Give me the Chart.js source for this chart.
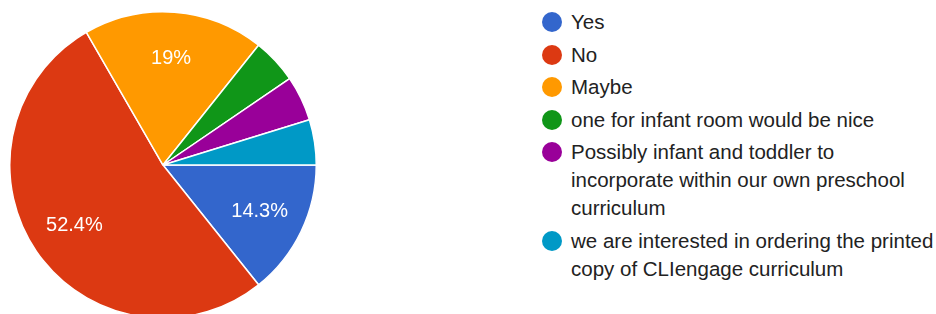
<!DOCTYPE html>
<html>
<head>
<meta charset="utf-8">
<script src="https://cdn.jsdelivr.net/npm/chart.js@4"></script>
<style>
  html, body { margin: 0; padding: 0; background: #fff; }
  body { width: 936px; height: 314px; position: relative; overflow: hidden; font-family: "Liberation Sans", Arial, sans-serif; }
  #pieWrap { position: absolute; left: 9px; top: 11px; width: 308px; height: 308px; }
  #legend { position: absolute; left: 541px; top: 8px; width: 395px; color: #222; font-size: 20.5px; }
  .item { display: flex; align-items: flex-start; margin-bottom: 4.5px; }
  .dot { width: 20px; height: 20px; border-radius: 50%; flex: none; margin: 4px 9px 0 1px; }
  .txt { line-height: 28px; width: 365px; }
</style>
</head>
<body>
<div id="pieWrap"><canvas id="c" width="308" height="308"></canvas></div>
<div id="legend"></div>
<script>
const categories = [
  "Yes",
  "No",
  "Maybe",
  "one for infant room would be nice",
  "Possibly infant and toddler to incorporate within our own preschool curriculum",
  "we are interested in ordering the printed copy of CLIengage curriculum"
];
const responses = [3, 11, 4, 1, 1, 1];
const colors = ["#3366cc", "#dc3912", "#ff9900", "#109618", "#990099", "#0099c6"];
const labelMinShare = 0.1;

const total = responses.reduce((a, b) => a + b, 0);
function fmtPct(v) {
  let s = (v / total * 100).toFixed(1);
  if (s.endsWith(".0")) s = s.slice(0, -2);
  return s + "%";
}

const sliceLabels = {
  id: "sliceLabels",
  afterDatasetsDraw(chart) {
    const ctx = chart.ctx;
    const meta = chart.getDatasetMeta(0);
    ctx.save();
    ctx.fillStyle = "#ffffff";
    ctx.font = "20px 'Liberation Sans', Arial, sans-serif";
    ctx.textAlign = "center";
    ctx.textBaseline = "middle";
    meta.data.forEach((arc, i) => {
      const v = responses[i];
      if (v / total < labelMinShare) return;
      const p = arc.getProps(["startAngle", "endAngle", "outerRadius", "x", "y"], true);
      const mid = (p.startAngle + p.endAngle) / 2;
      const r = p.outerRadius * 0.7;
      ctx.fillText(fmtPct(v), p.x + Math.cos(mid) * r, p.y + Math.sin(mid) * r);
    });
    ctx.restore();
  }
};

new Chart(document.getElementById("c"), {
  type: "pie",
  data: {
    labels: categories,
    datasets: [{
      data: responses,
      backgroundColor: colors,
      borderColor: "#ffffff",
      borderWidth: 1.5
    }]
  },
  options: {
    responsive: false,
    animation: false,
    rotation: 90,
    plugins: { legend: { display: false }, tooltip: { enabled: false } }
  },
  plugins: [sliceLabels]
});

const legend = document.getElementById("legend");
categories.forEach((name, i) => {
  const item = document.createElement("div");
  item.className = "item";
  const dot = document.createElement("div");
  dot.className = "dot";
  dot.style.background = colors[i];
  const txt = document.createElement("div");
  txt.className = "txt";
  txt.textContent = name;
  item.appendChild(dot);
  item.appendChild(txt);
  legend.appendChild(item);
});
</script>
</body>
</html>
